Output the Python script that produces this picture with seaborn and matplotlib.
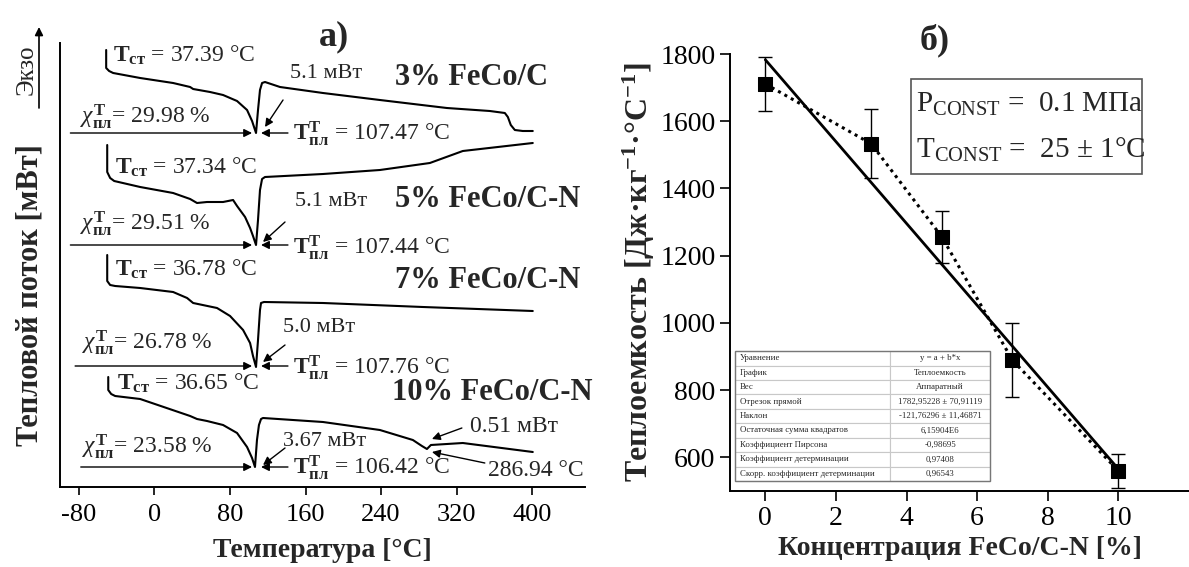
import numpy as np
import pandas as pd
import seaborn as sns
import matplotlib
matplotlib.use("Agg")
import matplotlib.pyplot as plt
from matplotlib.patches import Rectangle

# ---------------- Panel a: DSC curves (temperature in °C, heat flow in offset units) ----------------
t_3 = [-51.1, -51.1, -48.0, -43.7, -15.1, 19.8, 37.8, 41.0, 58.9, 72.7, 87.5, 98.1, 103.4, 107.6,
       109.7, 111.8, 114.0, 117.1, 133.0, 178.5, 238.8, 309.7, 355.2, 371.1, 374.3, 377.4, 381.7, 390.1, 400.7]
hf_3 = [43.7, 41.9, 41.6, 41.4, 40.9, 40.4, 40.0, 39.8, 39.5, 39.2, 38.6, 37.7, 36.6, 35.4,
        37.7, 39.7, 40.4, 40.5, 40.0, 39.4, 38.7, 37.9, 37.6, 37.4, 37.0, 36.2, 35.7, 35.6, 35.6]

t_5 = [-50.0, -50.0, -46.9, -42.6, -15.1, 19.8, 37.8, 45.1, 55.7, 72.7, 83.3, 87.5, 96.0, 101.3, 104.4,
       107.6, 109.7, 111.8, 114.0, 117.1, 178.5, 238.8, 291.7, 326.6, 400.7]
hf_5 = [34.2, 31.5, 30.9, 30.6, 30.0, 29.4, 28.8, 28.4, 28.5, 28.5, 28.7, 28.1, 27.0, 25.9, 25.1,
        24.2, 26.7, 29.7, 30.8, 31.0, 31.3, 31.7, 32.4, 33.6, 34.4]

t_7 = [-50.0, -50.0, -46.9, -41.6, -15.1, 19.8, 34.6, 41.0, 66.3, 80.1, 93.9, 101.3, 104.4, 107.6,
       109.7, 111.8, 112.9, 116.0, 178.5, 284.3, 400.7]
hf_7 = [23.2, 20.6, 20.2, 20.1, 19.9, 19.5, 18.9, 18.4, 17.9, 17.1, 15.7, 14.4, 13.1, 12.0,
        14.7, 17.7, 18.4, 18.5, 18.4, 18.0, 17.6]

t_10 = [-48.9, -48.9, -45.8, -41.6, -15.1, 37.8, 45.1, 55.7, 72.7, 87.5, 98.1, 103.4, 106.5,
        108.6, 110.7, 112.9, 115.0, 178.5, 238.8, 273.7, 283.3, 288.6, 292.8, 326.6, 400.7]
hf_10 = [11.0, 9.7, 9.3, 9.1, 8.8, 7.1, 6.8, 6.6, 6.2, 5.4, 4.0, 2.9, 2.0,
         4.7, 6.2, 6.8, 6.9, 6.5, 5.7, 4.7, 4.1, 3.8, 4.2, 4.4, 3.5]

samples = ["3% FeCo/C", "5% FeCo/C-N", "7% FeCo/C-N", "10% FeCo/C-N"]
t_glass = ["37.39", "37.34", "36.78", "36.65"]
chi_melt = ["29.98", "29.51", "26.78", "23.58"]
t_melt = ["107.47", "107.44", "107.76", "106.42"]
peak_mw = ["5.1", "5.1", "5.0", "3.67"]
second_peak_mw = "0.51"
second_peak_t = "286.94"
temp_ticks = [-80, 0, 80, 160, 240, 320, 400]

# ---------------- Panel b: heat capacity ----------------
conc = [0, 3, 5, 7, 10]
cp = [1711, 1533, 1256, 889, 560]
cp_err = [80, 102, 77, 110, 50]
fit_a = 1782.95228
fit_b = -121.76296
conc_ticks = [0, 2, 4, 6, 8, 10]
cp_ticks = [600, 800, 1000, 1200, 1400, 1600, 1800]
table_labels = ["Уравнение", "График", "Вес", "Отрезок прямой", "Наклон",
                "Остаточная сумма квадратов", "Коэффициент Пирсона",
                "Коэффициент детерминации", "Скорр. коэффициент детерминации"]
table_values = ["y = a + b*x", "Теплоемкость", "Аппаратный", "1782,95228 ± 70,91119",
                "-121,76296 ± 11,46871", "6,15904E6", "-0,98695", "0,97408", "0,96543"]

# ---------------- style ----------------
sns.set_style("ticks")
plt.rcParams["font.family"] = ["Liberation Serif", "DejaVu Serif"]
plt.rcParams["mathtext.fontset"] = "custom"
plt.rcParams["mathtext.rm"] = "Liberation Serif"
plt.rcParams["mathtext.it"] = "Liberation Serif:italic"
plt.rcParams["mathtext.bf"] = "Liberation Serif:bold"
plt.rcParams["axes.edgecolor"] = "black"
plt.rcParams["axes.linewidth"] = 1.4

W, H = 1189, 567
fig = plt.figure(figsize=(W / 100, H / 100), dpi=100)

# ================= Panel a =================
ax1 = fig.add_axes([60 / W, 80 / H, 525 / W, 444 / H])
curves = [(t_3, hf_3), (t_5, hf_5), (t_7, hf_7), (t_10, hf_10)]
for t, hf in curves:
    sns.lineplot(x=t, y=hf, ax=ax1, color="black", lw=1.5, estimator=None, sort=False)

ax1.set_xlim(-100, 456)
ax1.set_ylim(0, 44.4)
ax1.set_xticks(temp_ticks)
ax1.set_xticklabels([str(v) for v in temp_ticks])
ax1.set_yticks([])
for s in ["top", "right"]:
    ax1.spines[s].set_visible(False)
ax1.tick_params(axis="x", direction="out", length=6, width=1.2, labelsize=19, pad=6, colors="black")
ax1.set_xlabel("Температура [°C]", fontsize=20, fontweight="bold", labelpad=9)

# layout of annotations for each curve
lay = [
    dict(tst=(-43.6, 43.2), mw=(143.6, 41.3), name=(254.7, 40.9), chi=(-78.6, 37.0), dip=35.4,
         tail=(136.2, 38.7), head=(117.1, 36.0), tm=35.3, x0=-89),
    dict(tst=(-41.6, 32.0), mw=(148.9, 28.5), name=(254.7, 28.7), chi=(-78.6, 26.3), dip=24.2,
         tail=(138.3, 26.5), head=(115.0, 24.5), tm=23.9, x0=-89),
    dict(tst=(-41.6, 21.8), mw=(136.2, 15.9), name=(254.7, 20.7), chi=(-76.5, 14.4), dip=12.1,
         tail=(138.3, 14.2), head=(115.0, 12.5), tm=11.9, x0=-84),
    dict(tst=(-39.5, 10.4), mw=(136.2, 4.6), name=(251.5, 9.4), chi=(-76.5, 4.0), dip=2.0,
         tail=(138.3, 3.9), head=(115.0, 2.2), tm=1.9, x0=-78),
]
arr = dict(arrowstyle="-|>", color="black", lw=1.0, mutation_scale=12, shrinkA=0, shrinkB=0)
for i, L in enumerate(lay):
    ax1.text(*L["tst"], r"$\mathbf{T_{ст}}$ = " + t_glass[i] + " °C", fontsize=17, ha="left", va="center")
    ax1.text(*L["mw"], peak_mw[i] + " мВт", fontsize=16, ha="left", va="center")
    ax1.text(*L["name"], samples[i], fontsize=22, fontweight="bold", ha="left", va="center")
    ax1.text(*L["chi"], r"$\chi^{\mathbf{T}}_{\mathbf{пл}}$= " + chi_melt[i] + " %", fontsize=17,
             ha="left", va="center")
    ax1.annotate("", xy=(103.4, L["dip"]), xytext=(L["x0"], L["dip"]), arrowprops=arr)
    ax1.annotate("", xy=(112.9, L["dip"]), xytext=(141.4, L["dip"]), arrowprops=arr)
    ax1.annotate("", xy=L["head"], xytext=L["tail"], arrowprops=arr)
    ax1.text(146.7, L["tm"], r"$\mathbf{T^{T}_{пл}}$ = " + t_melt[i] + " °C", fontsize=17,
             ha="left", va="center")

ax1.text(334.2, 6.0, second_peak_mw + " мВт", fontsize=17, ha="left", va="center")
ax1.annotate("", xy=(293.9, 4.8), xytext=(325.6, 5.9), arrowprops=arr)
ax1.text(353.1, 1.7, second_peak_t + " °C", fontsize=17, ha="left", va="center", clip_on=False)
ax1.annotate("", xy=(293.9, 3.5), xytext=(349.9, 2.4), arrowprops=arr)

fig.text(334 / W, 1 - 37 / H, "а)", fontsize=26, fontweight="bold", ha="center", va="center")

# Экзо arrow & y label
fig.text(27 / W, 1 - 70 / H, "Экзо", rotation=90, fontsize=18, ha="center", va="center")
ax1.annotate("", xy=(39, H - 27), xytext=(39, H - 108), xycoords="figure pixels",
             textcoords="figure pixels",
             arrowprops=dict(arrowstyle="-|>", color="black", lw=1.2, mutation_scale=12, shrinkA=0, shrinkB=0))
fig.text(30 / W, 1 - 295 / H, "Тепловой поток [мВт]", rotation=90, fontsize=22, fontweight="bold",
         ha="center", va="center")

# ================= Panel b =================
ax2 = fig.add_axes([730 / W, 76 / H, 459 / W, 437 / H])
fit_x = [conc[0], conc[-1]]
fit_y = [fit_a + fit_b * v for v in fit_x]
sns.lineplot(x=fit_x, y=fit_y, ax=ax2, color="black", lw=2.0, estimator=None, sort=False)
sns.lineplot(x=conc, y=cp, ax=ax2, color="black", lw=2.2, linestyle=(0, (1, 1.4)),
             estimator=None, sort=False)
ax2.errorbar(conc, cp, yerr=cp_err, fmt="none", ecolor="black", elinewidth=1.0, capsize=5, capthick=1.0)
sns.scatterplot(x=conc, y=cp, ax=ax2, marker="s", s=90, color="black", edgecolor="black", zorder=5)

ax2.set_xlim(-1, 12)
ax2.set_ylim(500, 1800)
ax2.set_xticks(conc_ticks)
ax2.set_yticks(cp_ticks)
for s in ["top", "right"]:
    ax2.spines[s].set_visible(False)
ax2.tick_params(direction="out", length=7, width=1.2, labelsize=20, colors="black")
ax2.set_xlabel("Концентрация FeCo/C-N [%]", fontsize=20, fontweight="bold", labelpad=4)
ax2.set_ylabel(r"Теплоемкость [Дж·кг$^{\mathbf{-1}}$·°C$^{\mathbf{-1}}$]", fontsize=23,
               fontweight="bold", labelpad=2)
fig.text(935 / W, 1 - 40 / H, "б)", fontsize=26, fontweight="bold", ha="center", va="center")

# parameters box
ax2.add_patch(Rectangle((0.394, 0.725), 0.504, 0.218, transform=ax2.transAxes, fill=False,
                        edgecolor="#555555", lw=1.2))
ax2.text(0.405, 0.885, r"P$_{\mathrm{CONST}}$ =  0.1 МПа", transform=ax2.transAxes, fontsize=21,
         ha="left", va="center")
ax2.text(0.405, 0.78, r"T$_{\mathrm{CONST}}$ =  25 ± 1°C", transform=ax2.transAxes, fontsize=21,
         ha="left", va="center")

# fit table
rows = [[a, b] for a, b in zip(table_labels, table_values)]
tbl = ax2.table(cellText=rows, colWidths=[0.61, 0.39], bbox=[0.011, 0.023, 0.555, 0.297],
                cellLoc="left", zorder=3)
tbl.auto_set_font_size(False)
for (r, c), cell in tbl.get_celld().items():
    cell.set_edgecolor("#c8c8c8")
    cell.set_linewidth(0.8)
    cell.set_facecolor("white")
    cell.get_text().set_fontsize(6.3)
    cell.PAD = 0.03
    if c == 1:
        cell.get_text().set_horizontalalignment("center")
        cell._loc = "center"
ax2.add_patch(Rectangle((0.011, 0.023), 0.555, 0.297, transform=ax2.transAxes, fill=False,
                        edgecolor="#777777", lw=1.0, zorder=4))

fig.savefig("out.png", dpi=100)
